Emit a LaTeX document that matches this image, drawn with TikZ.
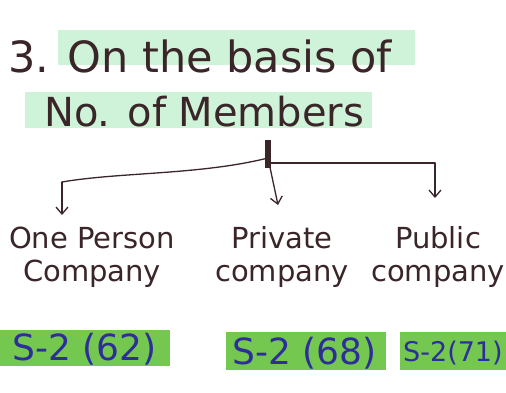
\documentclass[tikz,border=0pt]{standalone}
\usepackage{fontspec}
\setmainfont{DejaVu Sans}
\usetikzlibrary{arrows.meta}
\definecolor{ink}{HTML}{3A2528}
\definecolor{bink}{HTML}{2E2E9A}
\definecolor{hlight}{HTML}{CFF3D8}
\definecolor{hstrong}{HTML}{74C850}
\tikzset{
  x=1pt,y=-1pt,
  hw/.style={text=ink,font=\fontsize{43}{48}\selectfont,inner sep=0pt},
  hw2/.style={text=ink,font=\fontsize{40}{46}\selectfont,inner sep=0pt},
  lbl/.style={text=ink,font=\fontsize{29}{33}\selectfont,align=center,inner sep=0pt},
  ref/.style={text=bink,font=\fontsize{36}{40}\selectfont,inner sep=0pt},
  refs/.style={text=bink,font=\fontsize{27}{32}\selectfont,inner sep=0pt},
  hl/.style={fill=hlight},
  hs/.style={fill=hstrong},
  conn/.style={draw=ink,line width=1.3pt,line cap=round},
  arr/.style={conn,-{Straight Barb[length=7pt,width=12pt]}}
}
\begin{document}
\begin{tikzpicture}
\useasboundingbox (0,0) rectangle (506,392);
\clip (0,0) rectangle (506,392);
\fill[white] (0,0) rectangle (506,392);
% highlights
\fill[hl] (58,30) rectangle (415,65);
\fill[hl] (25,92) rectangle (372,128);
\fill[hs] (0,330) rectangle (170,366);
\fill[hs] (226,332) rectangle (386,370);
\fill[hs] (400,332) rectangle (506,370);
% titles
\node[hw,anchor=base west] (t1) at (8,72) {3. On the basis of};
\node[hw2,anchor=base west] (t2) at (44,126) {No. of Members};
% junction
\coordinate (j) at (268,158);
\fill[ink] (265,140) rectangle (271,168);
\coordinate (lc) at (62,182);
\coordinate (rc) at (435,163);
% labels
\node[lbl] (op) at (92,257) {One Person\\Company};
\node[lbl] (pc) at (282,257) {Private\\company};
\node[lbl] (pub) at (438,257) {Public\\company};
% refs
\node[ref,anchor=base west] (r1) at (12,360) {S-2 (62)};
\node[ref,anchor=base west] (r2) at (232,364) {S-2 (68)};
\node[refs,anchor=base west] (r3) at (403,361) {S-2(71)};
% connectors
\draw[conn] (j) .. controls (200,175) and (120,172) .. (lc);
\draw[arr] (lc) -- (62,215);
\draw[arr] (j) -- (278,205);
\draw[conn] (j |- rc) -- (rc);
\draw[arr] (rc) -- (435,198);
\end{tikzpicture}
\end{document}
